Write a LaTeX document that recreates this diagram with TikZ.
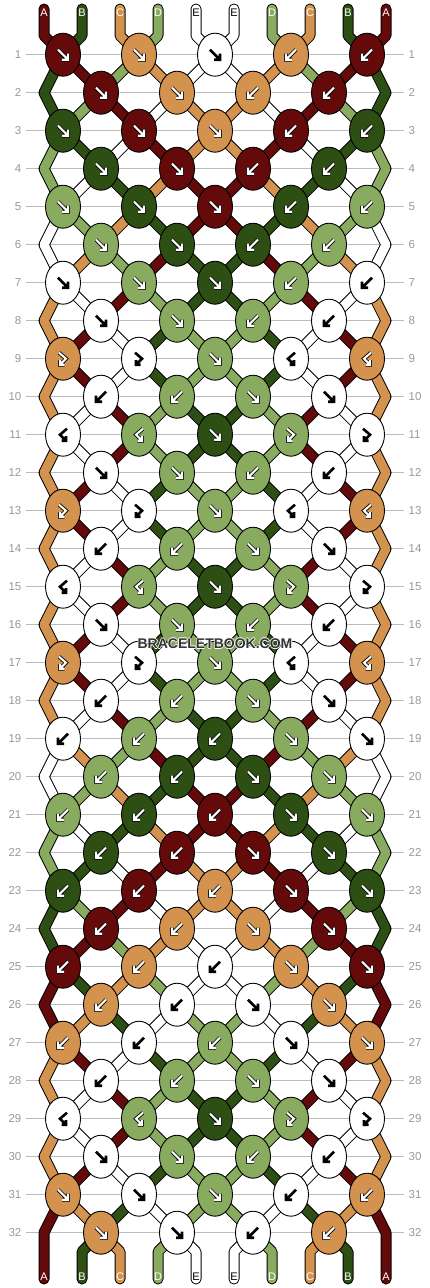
\documentclass[tikz,border=0pt]{standalone}
\usepackage{fontspec}
\setmainfont{Liberation Sans}
\usetikzlibrary{shapes.geometric}
\definecolor{colA}{HTML}{640A0A}
\definecolor{colB}{HTML}{2E4F14}
\definecolor{colC}{HTML}{D4924F}
\definecolor{colD}{HTML}{88AB60}
\definecolor{colE}{HTML}{FFFFFF}
\definecolor{rowgray}{HTML}{BBBBBB}
\definecolor{numgray}{HTML}{999999}
\definecolor{markgray}{HTML}{333333}
\tikzset{
  knot/.style={ellipse, draw=black, line width=0.9pt, minimum width=35pt, minimum height=43pt, inner sep=0pt},
  numlab/.style={text=numgray, font=\fontsize{11.5}{12}\selectfont, inner sep=0pt},
  strlab/.style={font=\fontsize{11}{12}\selectfont, inner sep=0pt},
  rowline/.style={rowgray, line width=1pt},
}
% knot x for row #1 containing string position #2
\newcommand\knx[2]{%
  \ifodd#1\relax
    \pgfmathsetmacro\kxv{63+76*floor((#2-1)/2)}%
  \else
    \pgfmathsetmacro\kxv{101+76*(floor(#2/2)-1)}%
  \fi}
\newcommand\drawstr[2]{%
  \draw[line width=11pt, line cap=#1, line join=round, black] #2;
  \draw[line width=9pt, line cap=#1, line join=round, col\scol] #2;}
\newcommand\segment[2]{%
  \pgfmathsetmacro\sx{44+38*(#2-1)}%
  \ifnum#1=0
    \knx{1}{#2}%
    \edef\tmp{\noexpand\drawstr{round}{(\sx,9) -- (\sx,35.7) -- (\kxv,54.7)}}\tmp
  \else\ifnum#1=32
    \ifnum#2=1 \else\ifnum#2=10 \else
      \knx{32}{#2}%
      \edef\tmp{\noexpand\drawstr{round}{(\kxv,1232.7) -- (\sx,1251.7) -- (\sx,1279)}}\tmp
    \fi\fi
  \else
    \pgfmathsetmacro\ya{54.7+38*(#1-1)}%
    \pgfmathsetmacro\yb{54.7+38*#1}%
    \pgfmathsetmacro\yc{54.7+38*(#1+1)}%
    \knx{#1}{#2}\let\kxa\kxv
    \pgfmathtruncatemacro\kn{#1+1}%
    \ifodd#1\relax
      \ifnum#2=1 \def\edgep{1}\else\ifnum#2=10 \def\edgep{1}\else\def\edgep{0}\fi\fi
      \ifnum\edgep=1
        \ifnum#1=31
          \edef\tmp{\noexpand\drawstr{round}{(\kxa,\ya) -- (\sx,\yb) -- (\sx,1279)}}\tmp
        \else
          \edef\tmp{\noexpand\drawstr{butt}{(\kxa,\ya) -- (\sx,\yb) -- (\kxa,\yc)}}\tmp
        \fi
      \else
        \knx{\kn}{#2}%
        \edef\tmp{\noexpand\drawstr{butt}{(\kxa,\ya) -- (\kxv,\yb)}}\tmp
      \fi
    \else
      \ifnum#2=1 \else\ifnum#2=10 \else
        \knx{\kn}{#2}%
        \edef\tmp{\noexpand\drawstr{butt}{(\kxa,\ya) -- (\kxv,\yb)}}\tmp
      \fi\fi
    \fi
  \fi\fi}
\newcommand\bnd[2]{\foreach \scol [count=\spos] in {#2} {\segment{#1}{\spos}}}
% glyph paths
\def\glyphf{(-5,-5) -- (5,5) (-1,5) -- (5,5) -- (5,-1)}
\def\glyphb{(5,-5) -- (-5,5) (1,5) -- (-5,5) -- (-5,-1)}
\def\glyphfb{(-4,-6) -- (3,0) -- (-3,6) (-3,1.5) -- (-3,6) -- (1.5,6)}
\def\glyphbf{(4,-6) -- (-3,0) -- (3,6) (3,1.5) -- (3,6) -- (-1.5,6)}
\newcommand\drawglyph[2]{%
  \ifnum#1=1
    \draw[line width=3.8pt, black, line join=miter] #2;
    \draw[line width=2.1pt, white, line join=miter] #2;
  \else
    \draw[line width=2.6pt, black, line join=miter] #2;
  \fi}
\newcommand\krow[2]{%
  \pgfmathsetmacro\ky{54.7+38*(#1-1)}%
  \foreach \ktp/\kcol [count=\kidx] in {#2} {%
    \ifodd#1\relax \pgfmathsetmacro\kx{63+76*(\kidx-1)}\else\pgfmathsetmacro\kx{101+76*(\kidx-1)}\fi
    \node[knot, fill=col\kcol] (k#1-\kidx) at (\kx,\ky) {};
    \expandafter\ifx\kcol E\def\gmode{0}\else\def\gmode{1}\fi
    \begin{scope}[shift={(\kx,\ky)}]
      \edef\tmp{\noexpand\drawglyph{\gmode}{\csname glyph\ktp\endcsname}}\tmp
    \end{scope}
  }}
\begin{document}
\begin{tikzpicture}[x=1pt,y=-1pt]
\useasboundingbox (0,0) rectangle (430,1288);
\fill[white] (0,0) rectangle (430,1288);
% row lines and numbers
\foreach \r in {1,...,32} {
  \pgfmathsetmacro\ry{54.7+38*(\r-1)}
  \draw[rowline] (26,\ry) -- (404,\ry);
  \node[numlab, anchor=east] (nl\r) at (21.5,\ry) {\r};
  \node[numlab, anchor=west] (nr\r) at (408.5,\ry) {\r};
}
% strings
\bnd{0}{A,B,C,D,E,E,D,C,B,A}
\bnd{1}{B,A,D,C,E,E,C,D,A,B}
\bnd{2}{B,D,A,E,C,C,E,A,D,B}
\bnd{3}{D,B,E,A,C,C,A,E,B,D}
\bnd{4}{D,E,B,C,A,A,C,B,E,D}
\bnd{5}{E,D,C,B,A,A,B,C,D,E}
\bnd{6}{E,C,D,A,B,B,A,D,C,E}
\bnd{7}{C,E,A,D,B,B,D,A,E,C}
\bnd{8}{C,A,E,B,D,D,B,E,A,C}
\bnd{9}{C,A,E,B,D,D,B,E,A,C}
\bnd{10}{C,E,A,D,B,B,D,A,E,C}
\bnd{11}{C,E,A,D,B,B,D,A,E,C}
\bnd{12}{C,A,E,B,D,D,B,E,A,C}
\bnd{13}{C,A,E,B,D,D,B,E,A,C}
\bnd{14}{C,E,A,D,B,B,D,A,E,C}
\bnd{15}{C,E,A,D,B,B,D,A,E,C}
\bnd{16}{C,A,E,B,D,D,B,E,A,C}
\bnd{17}{C,A,E,B,D,D,B,E,A,C}
\bnd{18}{C,E,A,D,B,B,D,A,E,C}
\bnd{19}{E,C,D,A,B,B,A,D,C,E}
\bnd{20}{E,D,C,B,A,A,B,C,D,E}
\bnd{21}{D,E,B,C,A,A,C,B,E,D}
\bnd{22}{D,B,E,A,C,C,A,E,B,D}
\bnd{23}{B,D,A,E,C,C,E,A,D,B}
\bnd{24}{B,A,D,C,E,E,C,D,A,B}
\bnd{25}{A,B,C,D,E,E,D,C,B,A}
\bnd{26}{A,C,B,E,D,D,E,B,C,A}
\bnd{27}{C,A,E,B,D,D,B,E,A,C}
\bnd{28}{C,E,A,D,B,B,D,A,E,C}
\bnd{29}{C,E,A,D,B,B,D,A,E,C}
\bnd{30}{C,A,E,B,D,D,B,E,A,C}
\bnd{31}{A,C,B,E,D,D,E,B,C,A}
\bnd{32}{A,B,C,D,E,E,D,C,B,A}
% string labels
\foreach \l [count=\q] in {A,B,C,D,E,E,D,C,B,A} {
  \pgfmathsetmacro\lx{44+38*(\q-1)}
  \expandafter\ifx\l E\def\lcol{black}\else\def\lcol{white}\fi
  \node[strlab, text=\lcol] (top\q) at (\lx,13) {\l};
  \node[strlab, text=\lcol] (bot\q) at (\lx,1276.5) {\l};
}
% knots
\krow{1}{f/A,f/C,f/E,b/C,b/A}
\krow{2}{f/A,f/C,b/C,b/A}
\krow{3}{f/B,f/A,f/C,b/A,b/B}
\krow{4}{f/B,f/A,b/A,b/B}
\krow{5}{f/D,f/B,f/A,b/B,b/D}
\krow{6}{f/D,f/B,b/B,b/D}
\krow{7}{f/E,f/D,f/B,b/D,b/E}
\krow{8}{f/E,f/D,b/D,b/E}
\krow{9}{fb/C,fb/E,f/D,bf/E,bf/C}
\krow{10}{b/E,b/D,f/D,f/E}
\krow{11}{bf/E,bf/D,f/B,fb/D,fb/E}
\krow{12}{f/E,f/D,b/D,b/E}
\krow{13}{fb/C,fb/E,f/D,bf/E,bf/C}
\krow{14}{b/E,b/D,f/D,f/E}
\krow{15}{bf/E,bf/D,f/B,fb/D,fb/E}
\krow{16}{f/E,f/D,b/D,b/E}
\krow{17}{fb/C,fb/E,f/D,bf/E,bf/C}
\krow{18}{b/E,b/D,f/D,f/E}
\krow{19}{b/E,b/D,b/B,f/D,f/E}
\krow{20}{b/D,b/B,f/B,f/D}
\krow{21}{b/D,b/B,b/A,f/B,f/D}
\krow{22}{b/B,b/A,f/A,f/B}
\krow{23}{b/B,b/A,b/C,f/A,f/B}
\krow{24}{b/A,b/C,f/C,f/A}
\krow{25}{b/A,b/C,b/E,f/C,f/A}
\krow{26}{b/C,b/E,f/E,f/C}
\krow{27}{b/C,b/E,b/D,f/E,f/C}
\krow{28}{b/E,b/D,f/D,f/E}
\krow{29}{bf/E,bf/D,f/B,fb/D,fb/E}
\krow{30}{f/E,f/D,b/D,b/E}
\krow{31}{f/C,f/E,f/D,b/E,b/C}
\krow{32}{f/C,f/E,b/E,b/C}
% watermark
\foreach \dx/\dy [count=\w] in {-0.8/0,0.8/0,0/-0.8,0/0.8} {
  \node[font=\bfseries\fontsize{14}{15}\selectfont, text=white, inner sep=0pt] (wmh\w) at (215+\dx,643.5+\dy) {BRACELETBOOK.COM};
}
\node[font=\bfseries\fontsize{14}{15}\selectfont, text=markgray, inner sep=0pt] (wm) at (215,643.5) {BRACELETBOOK.COM};
\end{tikzpicture}
\end{document}
